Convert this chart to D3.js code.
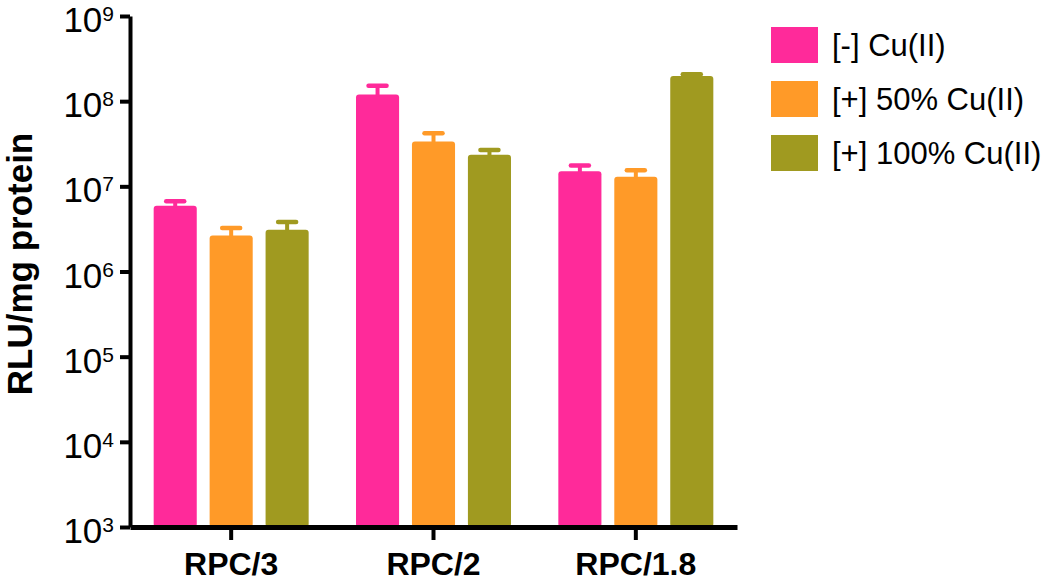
<!DOCTYPE html>
<html>
<head>
<meta charset="utf-8">
<script src="https://cdn.jsdelivr.net/npm/d3@7"></script>
<style>
    body { margin: 0; background: #fff; }
    text { font-family: "Liberation Sans", Arial, sans-serif; fill: #000; }
</style>
</head>
<body>
<script>
//==========================================================================//
//  DATA
//==========================================================================//

    // Groups along the x axis and the three treatments
    var categories = ["RPC/3", "RPC/2", "RPC/1.8"];
    var seriesNames = ["[-] Cu(II)", "[+] 50% Cu(II)", "[+] 100% Cu(II)"];
    var seriesColors = ["#FF2A9A", "#FF9A28", "#A09A20"];

    // Mean RLU/mg protein per group
    var noCopper = [5.9e6, 1.2e8, 1.5e7];
    var halfCopper = [2.65e6, 3.35e7, 1.3e7];
    var fullCopper = [3.1e6, 2.35e7, 1.98e8];

    // Upper error (SD) per group
    var noCopperErr = [0.8e6, 3.2e7, 2.6e6];
    var halfCopperErr = [0.6e6, 0.85e7, 2.4e6];
    var fullCopperErr = [0.7e6, 3.2e6, 0.9e7];

    // Y ticks (powers of ten)
    var yTicks = [1e3, 1e4, 1e5, 1e6, 1e7, 1e8, 1e9];

    var seriesValues = [noCopper, halfCopper, fullCopper];
    var seriesErrors = [noCopperErr, halfCopperErr, fullCopperErr];

    // flat table for the bars
    var table = [];
    categories.forEach(function(c, i) {
        seriesNames.forEach(function(s, j) {
            table.push({cat: c, series: s, color: seriesColors[j],
                        value: seriesValues[j][i], err: seriesErrors[j][i]});
        });
    });

//==========================================================================//
//  SVG
//==========================================================================//

    var W = 1050, H = 581;
    var plot = {left: 130, right: 737, top: 16, bottom: 527};

    var svg = d3.select("body")
        .append("svg")
        .attr("width", W)
        .attr("height", H);

    // Scales
    var y = d3.scaleLog()
        .domain([1e3, 1e9])
        .range([plot.bottom, plot.top]);

    var x0 = d3.scaleBand()
        .domain(categories)
        .range([plot.left, plot.right])
        .paddingInner(0.234)
        .paddingOuter(0.117);

    var x1 = d3.scaleBand()
        .domain(seriesNames)
        .range([0, x0.bandwidth()])
        .paddingInner(0.23)
        .paddingOuter(0);

//==========================================================================//
//  BARS + ERROR BARS
//==========================================================================//

    var bars = svg.append("g");

    bars.selectAll("rect")
        .data(table)
        .join("rect")
            .attr("x", function(d) { return x0(d.cat) + x1(d.series); })
            .attr("y", function(d) { return y(d.value); })
            .attr("width", x1.bandwidth())
            .attr("height", function(d) { return y(1e3) - y(d.value); })
            .attr("rx", 3)
            .style("fill", function(d) { return d.color; });

    // stem
    bars.selectAll("line.stem")
        .data(table)
        .join("line")
            .attr("class", "stem")
            .attr("x1", function(d) { return x0(d.cat) + x1(d.series) + x1.bandwidth() / 2; })
            .attr("x2", function(d) { return x0(d.cat) + x1(d.series) + x1.bandwidth() / 2; })
            .attr("y1", function(d) { return y(d.value) + 2; })
            .attr("y2", function(d) { return y(d.value + d.err); })
            .attr("stroke", function(d) { return d.color; })
            .attr("stroke-width", 4);

    // cap
    bars.selectAll("line.cap")
        .data(table)
        .join("line")
            .attr("class", "cap")
            .attr("x1", function(d) { return x0(d.cat) + x1(d.series) + x1.bandwidth() / 2 - 9; })
            .attr("x2", function(d) { return x0(d.cat) + x1(d.series) + x1.bandwidth() / 2 + 9; })
            .attr("y1", function(d) { return y(d.value + d.err); })
            .attr("y2", function(d) { return y(d.value + d.err); })
            .attr("stroke", function(d) { return d.color; })
            .attr("stroke-width", 4.5)
            .attr("stroke-linecap", "round");

//==========================================================================//
//  AXES
//==========================================================================//

    var yAxis = svg.append("g")
        .attr("transform", "translate(" + plot.left + ",0)")
        .call(d3.axisLeft(y)
              .tickValues(yTicks)
              .tickSize(10)
              .tickSizeOuter(0)
              .tickFormat(""));
    yAxis.select(".domain").attr("stroke-width", 4);
    yAxis.selectAll(".tick line").attr("stroke-width", 4);

    // 10^n labels
    var yLab = svg.append("g").selectAll("text")
        .data(yTicks)
        .join("text")
            .attr("x", 114)
            .attr("y", function(d) { return y(d) + 16; })
            .attr("text-anchor", "end")
            .style("font-size", "35px");
    yLab.append("tspan").text("10");
    yLab.append("tspan")
        .attr("dy", -11)
        .style("font-size", "21px")
        .text(function(d) { return Math.round(Math.log10(d)); });

    var xAxis = svg.append("g")
        .attr("transform", "translate(0," + plot.bottom + ")")
        .call(d3.axisBottom(x0)
              .tickSize(13)
              .tickSizeOuter(0)
              .tickFormat(""));
    xAxis.select(".domain").attr("stroke-width", 5);
    xAxis.selectAll(".tick line").attr("stroke-width", 4);

    svg.append("g").selectAll("text")
        .data(categories)
        .join("text")
            .attr("x", function(d) { return x0(d) + x0.bandwidth() / 2; })
            .attr("y", 575)
            .attr("text-anchor", "middle")
            .style("font-size", "32px")
            .style("font-weight", "bold")
            .text(function(d) { return d; });

    // Y title
    svg.append("text")
        .attr("transform", "translate(32,264) rotate(-90)")
        .attr("text-anchor", "middle")
        .style("font-size", "35px")
        .style("font-weight", "bold")
        .text("RLU/mg protein");

//==========================================================================//
//  LEGEND
//==========================================================================//

    var legend = svg.append("g").selectAll("g")
        .data(seriesNames)
        .join("g")
            .attr("transform", function(d, i) { return "translate(771," + (27 + i * 54) + ")"; });

    legend.append("rect")
        .attr("width", 47)
        .attr("height", 36)
        .style("fill", function(d, i) { return seriesColors[i]; });

    legend.append("text")
        .attr("x", 61)
        .attr("y", 29)
        .style("font-size", "31px")
        .text(function(d) { return d; });
</script>
</body>
</html>
